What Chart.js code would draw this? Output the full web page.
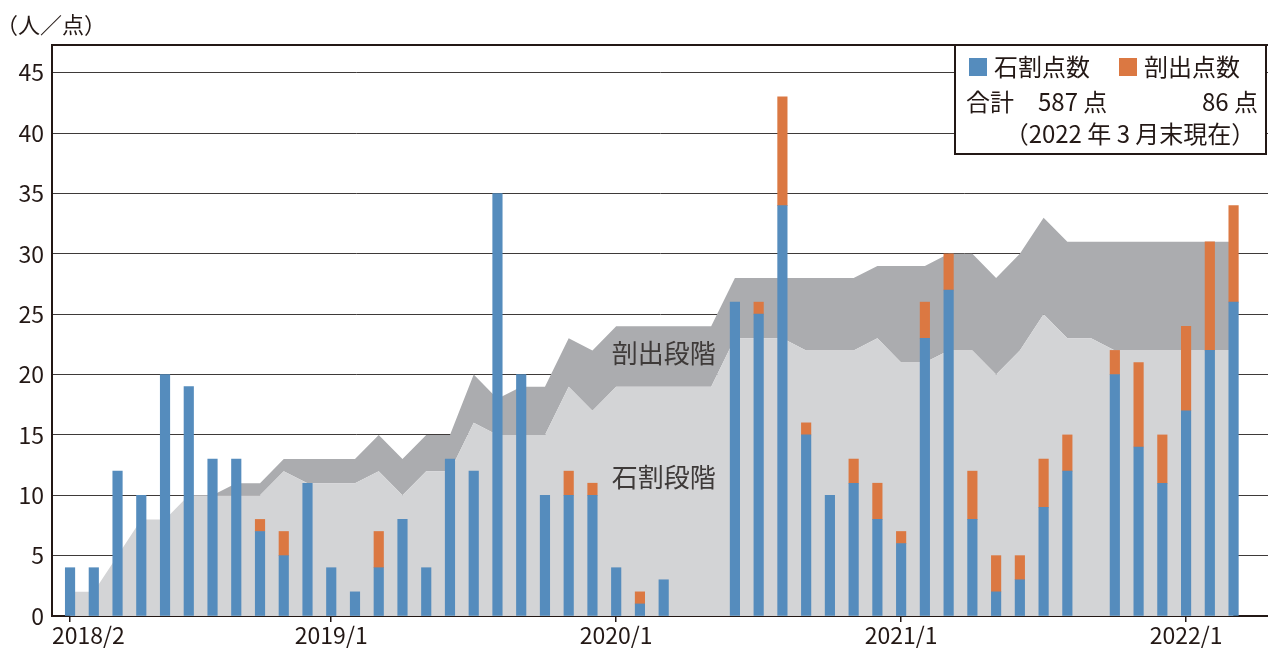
<!DOCTYPE html>
<html lang="ja">
<head>
<meta charset="utf-8">
<title>石割点数・剖出点数</title>
<script src="https://cdn.jsdelivr.net/npm/chart.js@4.4.1/dist/chart.umd.min.js"></script>
<style>
  html, body { margin: 0; padding: 0; background: #fff; }
  #wrap { width: 1268px; height: 649px; position: relative; }
</style>
</head>
<body>
<div id="wrap"><canvas id="chart"></canvas></div>
<script>
const months = [
  '2018/2', '2018/3', '2018/4', '2018/5', '2018/6', '2018/7', '2018/8', '2018/9', '2018/10', '2018/11', '2018/12',
  '2019/1', '2019/2', '2019/3', '2019/4', '2019/5', '2019/6', '2019/7', '2019/8', '2019/9', '2019/10', '2019/11', '2019/12',
  '2020/1', '2020/2', '2020/3', '2020/4', '2020/5', '2020/6', '2020/7', '2020/8', '2020/9', '2020/10', '2020/11', '2020/12',
  '2021/1', '2021/2', '2021/3', '2021/4', '2021/5', '2021/6', '2021/7', '2021/8', '2021/9', '2021/10', '2021/11', '2021/12',
  '2022/1', '2022/2', '2022/3',
];
const tickLabels = ['2018/2', '2019/1', '2020/1', '2021/1', '2022/1'];

// 石割点数 (blue) / 剖出点数 (orange), per month
const stoneSplit = [
  4, 4, 12, 10, 20, 19, 13, 13, 7, 5, 11,
  4, 2, 4, 8, 4, 13, 12, 35, 20, 10, 10, 10,
  4, 1, 3, 0, 0, 26, 25, 34, 15, 10, 11, 8,
  6, 23, 27, 8, 2, 3, 9, 12, 0, 20, 14, 11,
  17, 22, 26,
];
const extraction = [
  0, 0, 0, 0, 0, 0, 0, 0, 1, 2, 0,
  0, 0, 3, 0, 0, 0, 0, 0, 0, 0, 2, 1,
  0, 1, 0, 0, 0, 0, 1, 9, 1, 0, 2, 3,
  1, 3, 3, 4, 3, 2, 4, 3, 0, 2, 7, 4,
  7, 9, 8,
];

// people in each stage (grey areas)
const stoneStage = [
  2, 2, 5, 8, 8, 10, 10, 10, 10, 12, 11,
  11, 11, 12, 10, 12, 12, 16, 15, 15, 15, 19, 17,
  19, 19, 19, 19, 19, 23, 23, 23, 22, 22, 22, 23,
  21, 21, 22, 22, 20, 22, 25, 23, 23, 22, 22, 22,
  22, 22, 22,
];
const extractStage = [
  2, 2, 5, 8, 8, 10, 10, 11, 11, 13, 13,
  13, 13, 15, 13, 15, 15, 20, 18, 19, 19, 23, 22,
  24, 24, 24, 24, 24, 28, 28, 28, 28, 28, 28, 29,
  29, 29, 30, 30, 28, 30, 33, 31, 31, 31, 31, 31,
  31, 31, 31,
];

const stageNames = ['剖出段階', '石割段階'];
const unitText = '（人／点）';
const asOfText = '（2022 年 3 月末現在）';

const INK    = '#231815';
const BLUE   = '#558cbd';
const ORANGE = '#db7842';
const LIGHT  = '#d3d4d6';
const DARK   = '#abacaf';
const FONT   = "'Noto Sans CJK JP', 'Noto Sans', sans-serif";

Chart.defaults.font.family = FONT;
Chart.defaults.color = INK;

const pts = (arr) => arr.map((y, x) => ({ x, y }));
const barPts = (arr) => arr.map((y, x) => ({ x, y: y || null })); // no sliver for empty months
const sum = (arr) => arr.reduce((a, b) => a + b, 0);

// top frame line of the plot; first x label starts at the axis instead of centring on it
const frameTop = {
  id: 'frameTop',
  beforeDraw(chart) {
    const items = chart.scales.x.getLabelItems();
    if (items.length) {
      items[0].options.textAlign = 'left';
      items[0].options.translation[0] = chart.chartArea.left;
    }
  },
  beforeDatasetsDraw(chart) {
    const { ctx, chartArea: a } = chart;
    ctx.save();
    ctx.strokeStyle = INK;
    ctx.lineWidth = 2;
    ctx.beginPath();
    ctx.moveTo(a.left, a.top);
    ctx.lineTo(a.right, a.top);
    ctx.stroke();
    ctx.restore();
  },
};

// unit text, stage names and the legend box
const annotations = {
  id: 'annotations',
  afterDraw(chart) {
    const { ctx, chartArea: a, scales } = chart;
    ctx.save();
    ctx.fillStyle = INK;
    ctx.textBaseline = 'middle';

    ctx.font = `22px ${FONT}`;
    ctx.textAlign = 'left';
    ctx.fillText(unitText, -4, 25);

    ctx.font = `26px ${FONT}`;
    ctx.textAlign = 'center';
    ctx.fillStyle = '#3e3a39';
    const lx = scales.x.getPixelForValue(25);
    ctx.fillText(stageNames[0], lx, scales.y.getPixelForValue(21.8));
    ctx.fillText(stageNames[1], lx, scales.y.getPixelForValue(11.5));

    // legend
    const w = 311, h = 109;
    const bx = a.right - 2 - w, by = a.top;
    ctx.fillStyle = '#fff';
    ctx.fillRect(bx, by, w, h);
    ctx.strokeStyle = INK;
    ctx.lineWidth = 2;
    ctx.strokeRect(bx, by, w, h);

    ctx.fillStyle = BLUE;
    ctx.fillRect(bx + 14, by + 13, 18, 18);
    ctx.fillStyle = ORANGE;
    ctx.fillRect(bx + 164, by + 13, 18, 18);

    ctx.fillStyle = INK;
    ctx.font = `24px ${FONT}`;
    ctx.textAlign = 'left';
    ctx.fillText(chart.data.datasets[0].label, bx + 39, by + 22);
    ctx.fillText(chart.data.datasets[1].label, bx + 189, by + 22);
    ctx.fillText('合計', bx + 11, by + 57);
    ctx.fillText(`${sum(stoneSplit)} 点`, bx + 83, by + 57);
    ctx.textAlign = 'right';
    ctx.fillText(`${sum(extraction)} 点`, bx + 303, by + 57);
    ctx.textAlign = 'center';
    ctx.fillText(asOfText, bx + 175, by + 89);
    ctx.restore();
  },
};

new Chart(document.getElementById('chart'), {
  type: 'bar',
  data: {
    datasets: [
      { type: 'bar', label: '石割点数', data: barPts(stoneSplit), backgroundColor: BLUE,   stack: 'pts', barThickness: 9.5, order: 0 },
      { type: 'bar', label: '剖出点数', data: barPts(extraction), backgroundColor: ORANGE, stack: 'pts', barThickness: 9.5, order: 0 },
      { type: 'line', label: stageNames[1], data: pts(stoneStage),   fill: 'origin', backgroundColor: LIGHT,
        borderColor: 'transparent', borderWidth: 0, pointRadius: 0, tension: 0, stack: 'a1', order: 2 },
      { type: 'line', label: stageNames[0], data: pts(extractStage), fill: '-1',     backgroundColor: DARK,
        borderColor: 'transparent', borderWidth: 0, pointRadius: 0, tension: 0, stack: 'a2', order: 2 },
    ],
  },
  options: {
    animation: false,
    responsive: true,
    maintainAspectRatio: false,
    layout: { padding: { top: 45, left: 0, right: 0, bottom: 0 } },
    plugins: {
      legend: { display: false },
      tooltip: { enabled: false },
    },
    scales: {
      x: {
        type: 'linear',
        min: -0.76,
        max: 50.45,
        offset: false,
        stacked: true,
        afterBuildTicks: (s) => { s.ticks = tickLabels.map((l) => ({ value: months.indexOf(l) })); },
        ticks: {
          callback: (v) => months[v],
          autoSkip: false,
          maxRotation: 0,
          padding: 2,
          color: INK,
          font: { size: 23, lineHeight: 1 },
        },
        grid: { drawOnChartArea: false, drawTicks: true, tickLength: 6, color: INK, lineWidth: 1.5, offset: false },
        border: { display: true, color: INK, width: 2 },
      },
      y: {
        min: 0,
        max: 47.3,
        stacked: true,
        afterFit: (s) => { s.width = 52; },
        ticks: { stepSize: 5, includeBounds: false, padding: 8, color: INK, font: { size: 23 } },
        grid: { color: '#3e3a39', lineWidth: 1, drawTicks: false },
        border: { display: true, color: INK, width: 2 },
      },
    },
  },
  plugins: [frameTop, annotations],
});
</script>
</body>
</html>
